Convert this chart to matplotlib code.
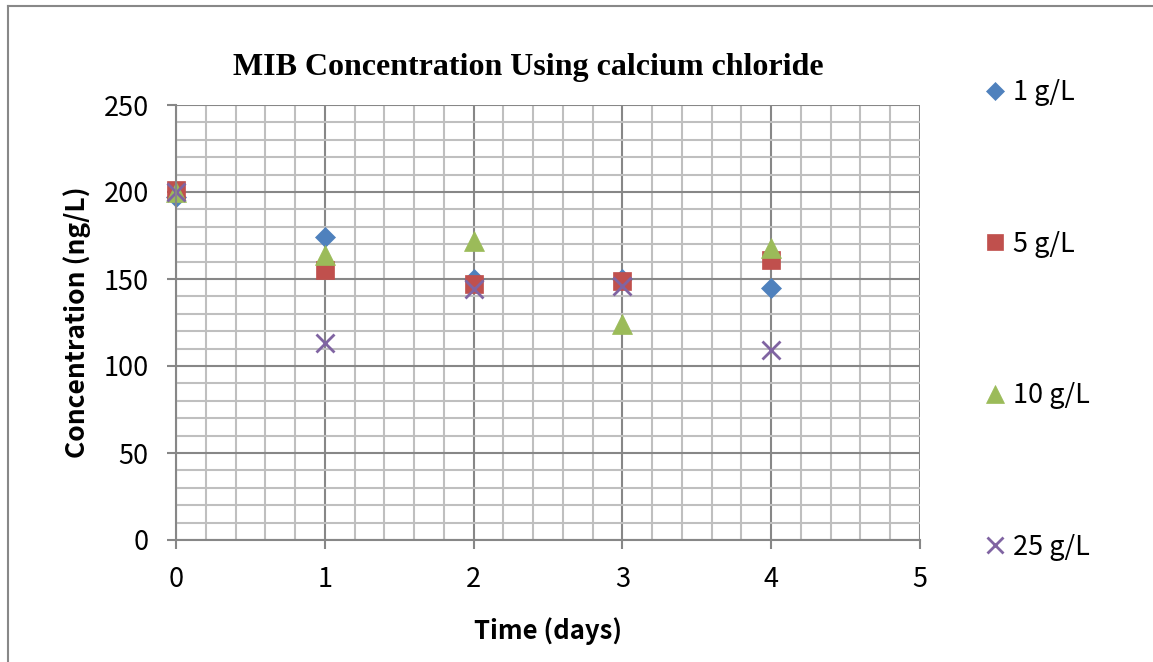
import matplotlib
matplotlib.use("Agg")
import matplotlib.pyplot as plt
from matplotlib.lines import Line2D
from matplotlib.ticker import MultipleLocator

days = [0, 1, 2, 3, 4]
series_names = ["1 g/L", "5 g/L", "10 g/L", "25 g/L"]
conc_1 = [197, 174, 150, 150, 145]
conc_5 = [201, 155, 147, 149, 161]
conc_10 = [200, 164, 172, 124, 168]
conc_25 = [200, 113, 144, 146, 109]
x_ticks = [0, 1, 2, 3, 4, 5]
y_ticks = [0, 50, 100, 150, 200, 250]

colors = ["#4F81BD", "#C0504D", "#9BBB59", "#8064A2"]
markers = ["D", "s", "^", "x"]
sizes = [10.5, 13.5, 14, 13]

SANS = ["Noto Sans CJK KR", "DejaVu Sans"]
W, H = 1153, 662
fig = plt.figure(figsize=(W / 100, H / 100), dpi=100)
# outer chart border (left and top visible)
fig.add_artist(Line2D([8 / W, 8 / W], [0, 1 - 6 / H], transform=fig.transFigure,
                      color="#888888", linewidth=1.5))
fig.add_artist(Line2D([8 / W, 1], [1 - 6 / H, 1 - 6 / H], transform=fig.transFigure,
                      color="#888888", linewidth=1.5))

ax = fig.add_axes([176 / W, 1 - 540 / H, (920 - 176) / W, (540 - 105) / H])
ax.set_xlim(0, 5)
ax.set_ylim(0, 250)
ax.set_xticks(x_ticks)
ax.set_yticks(y_ticks)
ax.xaxis.set_minor_locator(MultipleLocator(0.2))
ax.yaxis.set_minor_locator(MultipleLocator(10))
ax.grid(which="minor", color="#BFBFBF", linewidth=1.5)
ax.grid(which="major", color="#878787", linewidth=1.5)
ax.set_axisbelow(True)
for s in ["top", "right"]:
    ax.spines[s].set_visible(False)
for s in ["left", "bottom"]:
    ax.spines[s].set_color("#878787")
    ax.spines[s].set_linewidth(1.5)
ax.tick_params(axis="both", which="major", length=6.5, color="#878787", width=1.5,
               labelsize=19.5)
ax.tick_params(axis="x", which="major", pad=12)
ax.tick_params(axis="y", which="major", pad=13)
ax.tick_params(which="minor", length=0)
for lab in ax.get_xticklabels() + ax.get_yticklabels():
    lab.set_family(SANS)

all_series = [conc_1, conc_5, conc_10, conc_25]
for vals, name, c, m, ms in zip(all_series, series_names, colors, markers, sizes):
    kw = dict(markeredgewidth=2.0) if m == "x" else dict(markeredgecolor=c, markeredgewidth=0.5)
    ax.plot(days, vals, linestyle="none", marker=m, color=c, markersize=ms,
            label=name, clip_on=False, **kw)

ax.set_xlabel("Time (days)", fontsize=18.5, fontweight="bold", family=SANS, labelpad=18)
ax.set_ylabel("Concentration (ng/L)", fontsize=19, fontweight="bold", family=SANS, labelpad=9)

fig.text(528 / W, 1 - 67 / H, "MIB Concentration Using calcium chloride",
         ha="center", va="center", fontsize=23, fontweight="bold",
         family=["Liberation Serif", "DejaVu Serif"])

leg = fig.legend(loc="upper left", bbox_to_anchor=(987 / W, 1 - 79 / H),
                 frameon=False, handlelength=0.6, handletextpad=0.35,
                 labelspacing=4.6, markerscale=0.9, borderpad=0, borderaxespad=0,
                 prop={"family": SANS, "size": 19.5})

fig.savefig("out.png", dpi=100)
